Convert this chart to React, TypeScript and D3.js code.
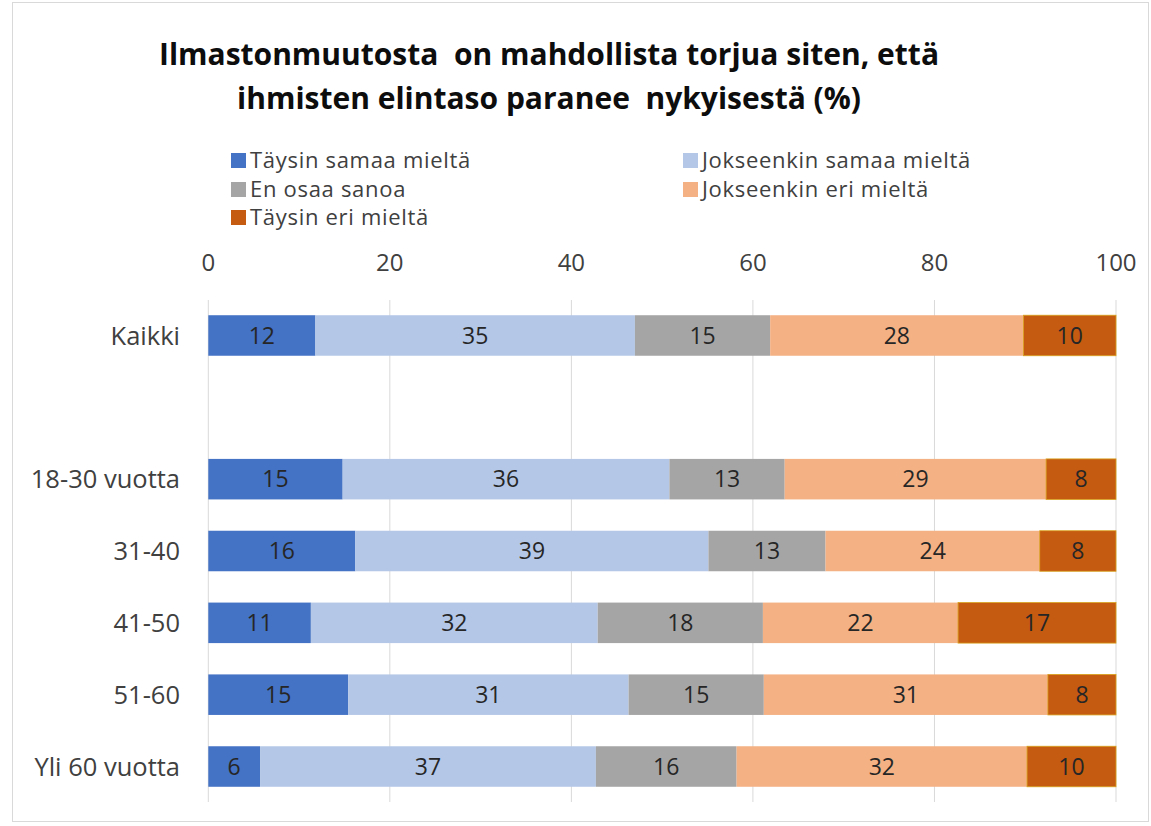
import React from "react";
import * as d3 from "d3";

const categories = ["Kaikki", "", "18-30 vuotta", "31-40", "41-50", "51-60", "Yli 60 vuotta"];
const seriesNames = [
  "Täysin samaa mieltä",
  "Jokseenkin samaa mieltä",
  "En osaa sanoa",
  "Jokseenkin eri mieltä",
  "Täysin eri mieltä",
];
const seriesColors = ["#4472C4", "#B4C7E7", "#A5A5A5", "#F4B183", "#C55A11"];

// values per category (null row = spacer)
const taysinSamaa = [11.8, null, 14.8, 16.2, 11.3, 15.4, 5.7];
const jokseenkinSamaa = [35.2, null, 36.0, 38.9, 31.6, 30.9, 37.0];
const enOsaa = [14.9, null, 12.7, 12.9, 18.2, 14.9, 15.5];
const jokseenkinEri = [27.9, null, 28.8, 23.6, 21.5, 31.3, 32.0];
const taysinEri = [10.2, null, 7.7, 8.4, 17.4, 7.5, 9.8];

const xTicks = [0, 20, 40, 60, 80, 100];
const titleLines = [
  "Ilmastonmuutosta  on mahdollista torjua siten, että",
  "ihmisten elintaso paranee  nykyisestä (%)",
];

const FONT = "'Open Sans', 'DejaVu Sans', sans-serif";

export default function App() {
  const W = 1151;
  const H = 826;
  const x = d3.scaleLinear().domain([0, 100]).range([208.3, 1116]);
  const y = d3
    .scaleBand<string>()
    .domain(categories.map((c, i) => i + ""))
    .range([300, 802])
    .paddingInner(0.436)
    .paddingOuter(0.212);

  const seriesValues = [taysinSamaa, jokseenkinSamaa, enOsaa, jokseenkinEri, taysinEri];
  const rows = categories.map((c, i) => {
    const obj: any = { key: i + "" };
    seriesNames.forEach((s, j) => (obj[s] = seriesValues[j][i] ?? 0));
    return obj;
  });
  const stacked = d3.stack<any>().keys(seriesNames)(rows);

  const legendItems = [
    { name: seriesNames[0], color: seriesColors[0], x: 231, y: 168 },
    { name: seriesNames[1], color: seriesColors[1], x: 683, y: 168 },
    { name: seriesNames[2], color: seriesColors[2], x: 231, y: 197 },
    { name: seriesNames[3], color: seriesColors[3], x: 683, y: 197 },
    { name: seriesNames[4], color: seriesColors[4], x: 231, y: 225 },
  ];

  return (
    <svg
      width={W}
      height={H}
      style={{ position: "absolute", left: 0, top: 0, background: "#fff" }}
      fontFamily={FONT}
    >
      <rect x={0} y={0} width={W} height={H} fill="#fff" />
      <rect x={12.5} y={2.5} width={1136} height={819} fill="none" stroke="#d9d9d9" strokeWidth={1} />

      {/* Title */}
      {titleLines.map((t, i) => (
        <text
          key={i}
          x={549}
          y={65 + i * 44}
          textAnchor="middle"
          fontSize={30}
          fontWeight="bold"
          fill="#0d0d0d"
          style={{ whiteSpace: "pre" }}
        >
          {t}
        </text>
      ))}

      {/* Legend */}
      {legendItems.map((l) => (
        <g key={l.name}>
          <rect x={l.x} y={l.y - 15} width={15} height={15} fill={l.color} />
          <text x={l.x + 19} y={l.y} fontSize={22} letterSpacing={0.7} fill="#404040">
            {l.name}
          </text>
        </g>
      ))}

      {/* Gridlines */}
      {xTicks.map((t) => (
        <line key={t} x1={x(t)} x2={x(t)} y1={300} y2={802} stroke="#d9d9d9" strokeWidth={1} />
      ))}
      {/* Tick labels */}
      {xTicks.map((t) => (
        <text key={"t" + t} x={x(t)} y={271} textAnchor="middle" fontSize={24} fill="#404040">
          {t}
        </text>
      ))}

      {/* Bars */}
      {stacked.map((layer, si) =>
        layer.map((d, ci) => {
          const v = seriesValues[si][ci];
          if (v == null) return null;
          const x0 = x(d[0]);
          const x1 = x(d[1]);
          const yy = y(ci + "")!;
          const bw = y.bandwidth();
          return (
            <g key={si + "-" + ci}>
              <rect
                x={x0}
                y={yy}
                width={x1 - x0}
                height={bw}
                fill={seriesColors[si]}
                stroke={si === 4 ? "#D9A21B" : "none"}
                strokeWidth={si === 4 ? 0.8 : 0}
              />
              <text
                x={(x0 + x1) / 2}
                y={yy + bw / 2}
                dy="0.36em"
                textAnchor="middle"
                fontSize={23}
                fill="#262626"
              >
                {Math.round(v)}
              </text>
            </g>
          );
        })
      )}

      {/* Category labels */}
      {categories.map((c, i) =>
        c ? (
          <text
            key={c}
            x={180}
            y={y(i + "")! + y.bandwidth() / 2}
            dy="0.36em"
            textAnchor="end"
            fontSize={25.5}
            fill="#404040"
          >
            {c}
          </text>
        ) : null
      )}
    </svg>
  );
}
